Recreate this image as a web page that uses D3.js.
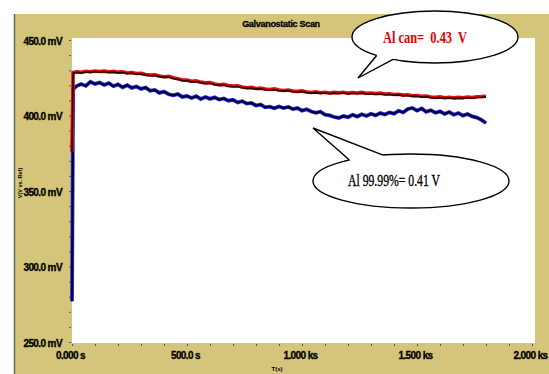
<!DOCTYPE html>
<html>
<script src="https://d3js.org/d3.v7.min.js"></script>

<head>
    <style>
        body {
            margin: 0;
            background-color: #ffffff;
            font-family: "Liberation Sans", Arial, Helvetica, sans-serif;
        }

        svg {
            display: block;
        }
    </style>
</head>

<body>
</body>
<script>
    const width = 549,
        height = 374;

    // sampled potentials read from the plate (time in s, potential in mV)
    const times = [0, 5, 20, 40, 60, 80, 100, 120, 140, 160, 180, 200, 220, 240, 260, 280, 300, 320, 340, 360,
        380, 400, 420, 440, 460, 480, 500, 520, 540, 560, 580, 600, 620, 640, 660, 680, 700, 720, 740, 760,
        780, 800, 820, 840, 860, 880, 900, 920, 940, 960, 980, 1000, 1020, 1040, 1060, 1080, 1100, 1120, 1140, 1160,
        1180, 1200, 1220, 1240, 1260, 1280, 1300, 1320, 1340, 1360, 1380, 1400, 1420, 1440, 1460, 1480, 1500, 1520, 1540, 1560,
        1580, 1600, 1620, 1640, 1660, 1680, 1700, 1720, 1740, 1760, 1780, 1800];
    const alCan = [376, 428.5, 429.0, 428.6, 429.3, 429.0, 429.5, 429.1, 429.4, 428.9, 429.2, 428.7, 428.9, 428.2, 428.5, 427.8, 427.9, 427.2, 426.8, 426.9,
        426.2, 425.7, 425.9, 425.0, 424.4, 423.5, 423.4, 422.7, 422.9, 422.1, 421.6, 421.8, 420.9, 420.4, 420.6, 419.8, 419.5, 419.7, 418.9, 418.4,
        418.6, 417.9, 418.1, 417.5, 417.2, 417.6, 416.9, 416.6, 416.9, 416.2, 416.0, 416.3, 415.6, 415.2, 415.6, 415.1, 415.4, 414.9, 415.3, 415.0,
        415.4, 414.8, 415.2, 414.9, 415.3, 414.7, 414.9, 414.5, 414.8, 414.2, 414.4, 413.9, 414.1, 413.5, 413.7, 413.1, 413.2, 412.7, 412.9, 412.3,
        412.0, 412.3, 411.8, 412.1, 411.7, 412.0, 411.8, 412.2, 411.9, 412.4, 412.5, 412.8];
    const al9999 = [277, 417.5, 419.5, 420.8, 419.6, 422.3, 420.9, 421.8, 420.2, 421.5, 419.4, 420.6, 418.7, 420.1, 418.3, 419.2, 417.6, 418.5, 416.4, 416.9,
        415.0, 415.8, 414.1, 413.4, 414.2, 412.3, 412.9, 411.6, 412.8, 410.9, 412.2, 411.0, 412.0, 410.6, 411.3, 409.8, 410.4, 408.7, 409.5, 407.9,
        408.3, 406.6, 407.2, 405.4, 405.9, 404.8, 406.0, 404.9, 405.7, 404.3, 404.9, 403.2, 404.1, 402.6, 401.8, 402.5, 400.6, 400.1, 399.0, 398.4,
        399.6, 398.9, 400.5, 399.3, 400.8, 399.7, 401.2, 400.1, 401.6, 400.7, 402.0, 401.2, 403.1, 402.0, 404.3, 405.0, 403.2, 404.6, 402.4, 403.5,
        401.8, 402.7, 401.0, 402.3, 400.5, 401.6, 399.9, 401.0, 399.4, 398.6, 397.1, 395.0];

    const yTicks = [250, 300, 350, 400, 450];
    const yTickLabels = ["250.0 mV", "300.0 mV", "350.0 mV", "400.0 mV", "450.0 mV"];
    const xTicks = [0, 500, 1000, 1500, 2000];
    const xTickLabels = ["0.000 s", "500.0 s", "1.000 ks", "1.500 ks", "2.000 ks"];

    const tan = "#d5c57b";

    const svg = d3.select("body").append("svg").attr("width", width).attr("height", height);

    const x = d3.scaleLinear().domain([0, 2000]).range([72, 532]);
    const y = d3.scaleLinear().domain([250, 450]).range([342, 40]);

    // panel
    svg.append("rect").attr("x", 14).attr("y", 14).attr("width", width - 14).attr("height", height - 14)
        .attr("fill", tan);
    svg.append("line").attr("x1", 14.5).attr("x2", 14.5).attr("y1", 14).attr("y2", height)
        .attr("stroke", "#6d6a5c").attr("stroke-width", 1.5);
    svg.append("rect").attr("x", 72).attr("y", 38).attr("width", 535 - 72).attr("height", 343 - 38)
        .attr("fill", "#ffffff");

    svg.append("text")
        .attr("x", 281).attr("y", 27)
        .attr("text-anchor", "middle")
        .attr("font-size", 9).attr("font-weight", "bold")
        .attr("stroke", "#000").attr("stroke-width", 0.3)
        .attr("letter-spacing", -0.3)
        .text("Galvanostatic Scan");

    // minor ticks
    svg.append("g").attr("transform", "translate(71,0)")
        .call(d3.axisLeft(y).tickValues(d3.range(250, 451, 10)).tickSize(2).tickFormat(""))
        .call(g => g.select(".domain").remove())
        .call(g => g.selectAll("line").attr("stroke", "#555"));
    svg.append("g").attr("transform", "translate(0,344)")
        .call(d3.axisBottom(x).tickValues(d3.range(0, 2001, 100)).tickSize(2).tickFormat(""))
        .call(g => g.select(".domain").remove())
        .call(g => g.selectAll("line").attr("stroke", "#555"));

    // tick labels
    svg.append("g").attr("transform", "translate(65,1)")
        .call(d3.axisLeft(y).tickValues(yTicks).tickSize(0).tickFormat((d, i) => yTickLabels[i]))
        .call(g => g.select(".domain").remove())
        .call(g => g.selectAll("text")
            .attr("font-size", 10).attr("font-weight", "bold")
            .attr("font-family", "'Liberation Sans', Arial, sans-serif")
            .attr("stroke", "#000").attr("stroke-width", 0.3)
            .attr("letter-spacing", -0.6).attr("fill", "#000"));
    svg.append("g").attr("transform", "translate(-2,349)")
        .call(d3.axisBottom(x).tickValues(xTicks).tickSize(0).tickFormat((d, i) => xTickLabels[i]))
        .call(g => g.select(".domain").remove())
        .call(g => g.selectAll("text")
            .attr("font-size", 10).attr("font-weight", "bold")
            .attr("font-family", "'Liberation Sans', Arial, sans-serif")
            .attr("stroke", "#000").attr("stroke-width", 0.3)
            .attr("letter-spacing", -0.6).attr("fill", "#000"));

    // axis titles
    svg.append("text")
        .attr("x", 277).attr("y", 371)
        .attr("text-anchor", "middle")
        .attr("font-size", 6).attr("font-weight", "bold")
        .text("T(s)");
    svg.append("text")
        .attr("transform", "translate(22,183) rotate(-90)")
        .attr("text-anchor", "middle")
        .attr("font-size", 5.5).attr("font-weight", "bold")
        .text("V(V vs. Ref)");

    // traces
    const line = d3.line()
        .x((d, i) => x(times[i]))
        .y(d => y(d));

    svg.append("path").attr("d", line(al9999))
        .attr("fill", "none").attr("stroke", "#2a2aff").attr("stroke-width", 3.8);
    svg.append("path").attr("d", line(al9999))
        .attr("fill", "none").attr("stroke", "#000033").attr("stroke-width", 2.2);

    svg.append("path").attr("d", line(alCan))
        .attr("fill", "none").attr("stroke", "#e01010").attr("stroke-width", 3.6);
    svg.append("path").attr("d", line(alCan)).attr("transform", "translate(0,0.7)")
        .attr("fill", "none").attr("stroke", "#2a0000").attr("stroke-width", 1.6);

    // callouts
    function callout(cx, cy, rx, ry, a1, a2, tip) {
        const g = svg.append("g");
        const p1 = [cx + rx * Math.cos(a1), cy + ry * Math.sin(a1)];
        const p2 = [cx + rx * Math.cos(a2), cy + ry * Math.sin(a2)];
        const q1 = [cx + (rx - 3) * Math.cos(a1), cy + (ry - 3) * Math.sin(a1)];
        const q2 = [cx + (rx - 3) * Math.cos(a2), cy + (ry - 3) * Math.sin(a2)];
        g.append("ellipse").attr("cx", cx).attr("cy", cy).attr("rx", rx).attr("ry", ry)
            .attr("fill", "#fff").attr("stroke", "#000").attr("stroke-width", 1.4);
        g.append("path").attr("d", d3.line()([q1, p1, tip, p2, q2]))
            .attr("fill", "#fff").attr("stroke", "none");
        g.append("path").attr("d", d3.line()([p1, tip, p2]))
            .attr("fill", "none").attr("stroke", "#000").attr("stroke-width", 1.4);
        return g;
    }

    const redNote = callout(435, 37, 83, 26, 2.35, 2.1, [358, 78]);
    redNote.append("text")
        .attr("x", 383).attr("y", 43)
        .attr("font-family", "'Liberation Serif', 'Times New Roman', serif")
        .attr("font-size", 17).attr("font-weight", "bold").attr("fill", "#e00000")
        .attr("textLength", 84).attr("lengthAdjust", "spacingAndGlyphs")
        .attr("xml:space", "preserve")
        .text("Al can=  0.43  V");

    const blueNote = callout(411, 181, 98, 27, -2.25, -1.86, [313, 128]);
    blueNote.append("text")
        .attr("x", 348).attr("y", 186)
        .attr("font-family", "'Liberation Serif', 'Times New Roman', serif")
        .attr("font-size", 17).attr("fill", "#000")
        .attr("stroke", "#000").attr("stroke-width", 0.35)
        .attr("textLength", 92).attr("lengthAdjust", "spacingAndGlyphs")
        .text("Al 99.99%= 0.41 V");
</script>

</html>
